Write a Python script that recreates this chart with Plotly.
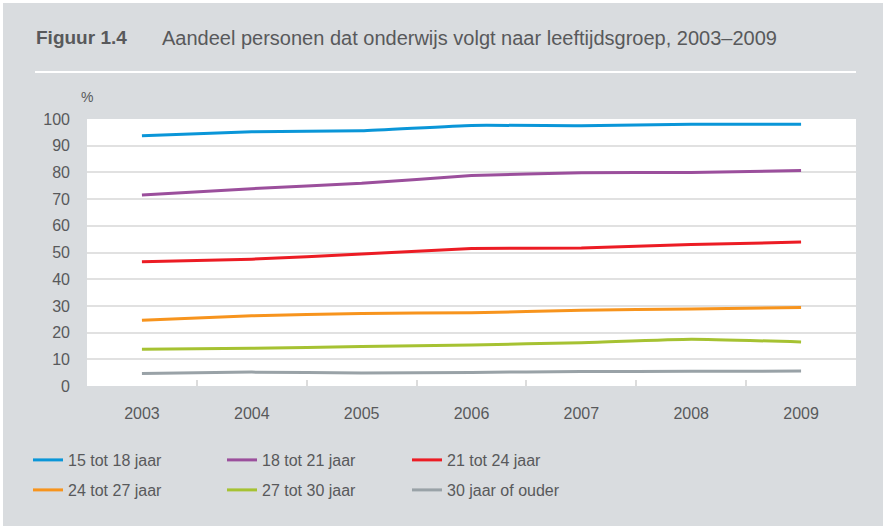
import plotly.graph_objects as go

years = [2003, 2004, 2005, 2006, 2007, 2008, 2009]
series_names = ["15 tot 18 jaar", "18 tot 21 jaar", "21 tot 24 jaar",
                "24 tot 27 jaar", "27 tot 30 jaar", "30 jaar of ouder"]
v_15_18 = [93.7, 95.2, 95.6, 97.6, 97.5, 98.0, 98.0]
v_18_21 = [71.5, 73.9, 75.9, 78.8, 79.9, 80.0, 80.7]
v_21_24 = [46.5, 47.5, 49.4, 51.5, 51.7, 53.0, 53.9]
v_24_27 = [24.6, 26.3, 27.2, 27.4, 28.4, 28.8, 29.4]
v_27_30 = [13.8, 14.1, 14.8, 15.4, 16.2, 17.5, 16.5]
v_30_plus = [4.7, 5.2, 4.9, 5.1, 5.4, 5.5, 5.6]
values = [v_15_18, v_18_21, v_21_24, v_24_27, v_27_30, v_30_plus]
colors = ["#0a96d8", "#9b4f9c", "#ec1c24", "#f7941d", "#a6c232", "#99a2a7"]

TXT = "#58595b"
BG = "#d9dcdf"
FONT = "Liberation Sans"

# plot area in px
L, R, T, B = 87, 856, 119, 386
W, H = 883, 526
def px(x):
    return (x - L) / (R - L)
def py(y):
    return (B - y) / (B - T)

# legend slots (container px): column x, row y
leg_x = [28, 222, 407]
leg_y = [460, 490]
legend_names = ["legend", "legend2", "legend3", "legend4", "legend5", "legend6"]

fig = go.Figure()
for i, (name, vals, col) in enumerate(zip(series_names, values, colors)):
    fig.add_trace(go.Scatter(
        x=years, y=vals, name=name, mode="lines",
        line=dict(color=col, width=3, shape="spline", smoothing=0.4),
        legend=legend_names[i],
    ))

legends = {}
for i, ln in enumerate(legend_names):
    legends[ln] = dict(
        orientation="v", xref="container", yref="container",
        x=leg_x[i % 3] / W, y=1 - leg_y[i // 3] / H,
        xanchor="left", yanchor="middle", bgcolor="rgba(0,0,0,0)",
        font=dict(family=FONT, size=16, color=TXT), itemwidth=30,
    )

fig.update_layout(
    width=W, height=H,
    margin=dict(l=L, r=W - R, t=T, b=H - B, autoexpand=False),
    paper_bgcolor=BG, plot_bgcolor="white",
    font=dict(family=FONT, size=16, color=TXT),
    showlegend=True,
    xaxis=dict(
        range=[2002.5, 2009.5], tickvals=years, ticktext=[str(y) for y in years],
        showgrid=False, zeroline=False, showline=False, ticks="",
        ticklabelstandoff=16, tickangle=0, automargin=False,
        tickfont=dict(family=FONT, size=16, color=TXT),
        minor=dict(tickvals=[2003.5, 2004.5, 2005.5, 2006.5, 2007.5, 2008.5],
                   ticks="inside", ticklen=6, tickwidth=1.5, tickcolor="#dcdcdc",
                   showgrid=False),
    ),
    yaxis=dict(
        range=[0, 100], dtick=10, showgrid=True, gridcolor="#e1e1e1", gridwidth=2,
        zeroline=False, showline=False, ticks="", ticklabelstandoff=16,
        automargin=False,
        tickfont=dict(family=FONT, size=16, color=TXT),
    ),
    shapes=[
        dict(type="line", xref="paper", yref="paper", x0=px(35), x1=px(856),
             y0=py(72), y1=py(72), line=dict(color="white", width=2)),
        dict(type="rect", xref="paper", yref="paper", x0=px(0), x1=px(3),
             y0=py(H), y1=py(0), fillcolor="white", line=dict(width=0)),
        dict(type="rect", xref="paper", yref="paper", x0=px(0), x1=px(W),
             y0=py(3), y1=py(0), fillcolor="white", line=dict(width=0)),
    ],
    annotations=[
        dict(text="<b>Figuur 1.4</b>", xref="paper", yref="paper", x=px(34), y=py(38),
             xanchor="left", yanchor="middle", showarrow=False,
             font=dict(family=FONT, size=19, color=TXT)),
        dict(text="Aandeel personen dat onderwijs volgt naar leeftijdsgroep, 2003–2009",
             xref="paper", yref="paper", x=px(160), y=py(38),
             xanchor="left", yanchor="middle", showarrow=False,
             font=dict(family=FONT, size=20, color=TXT)),
        dict(text="%", xref="paper", yref="paper", x=px(87), y=py(97),
             xanchor="center", yanchor="middle", showarrow=False,
             font=dict(family=FONT, size=14, color=TXT)),
    ],
    **legends,
)

fig.write_html("out.html", config={"displayModeBar": False},
               post_script="document.body.style.margin='0';document.body.style.overflow='hidden';")
